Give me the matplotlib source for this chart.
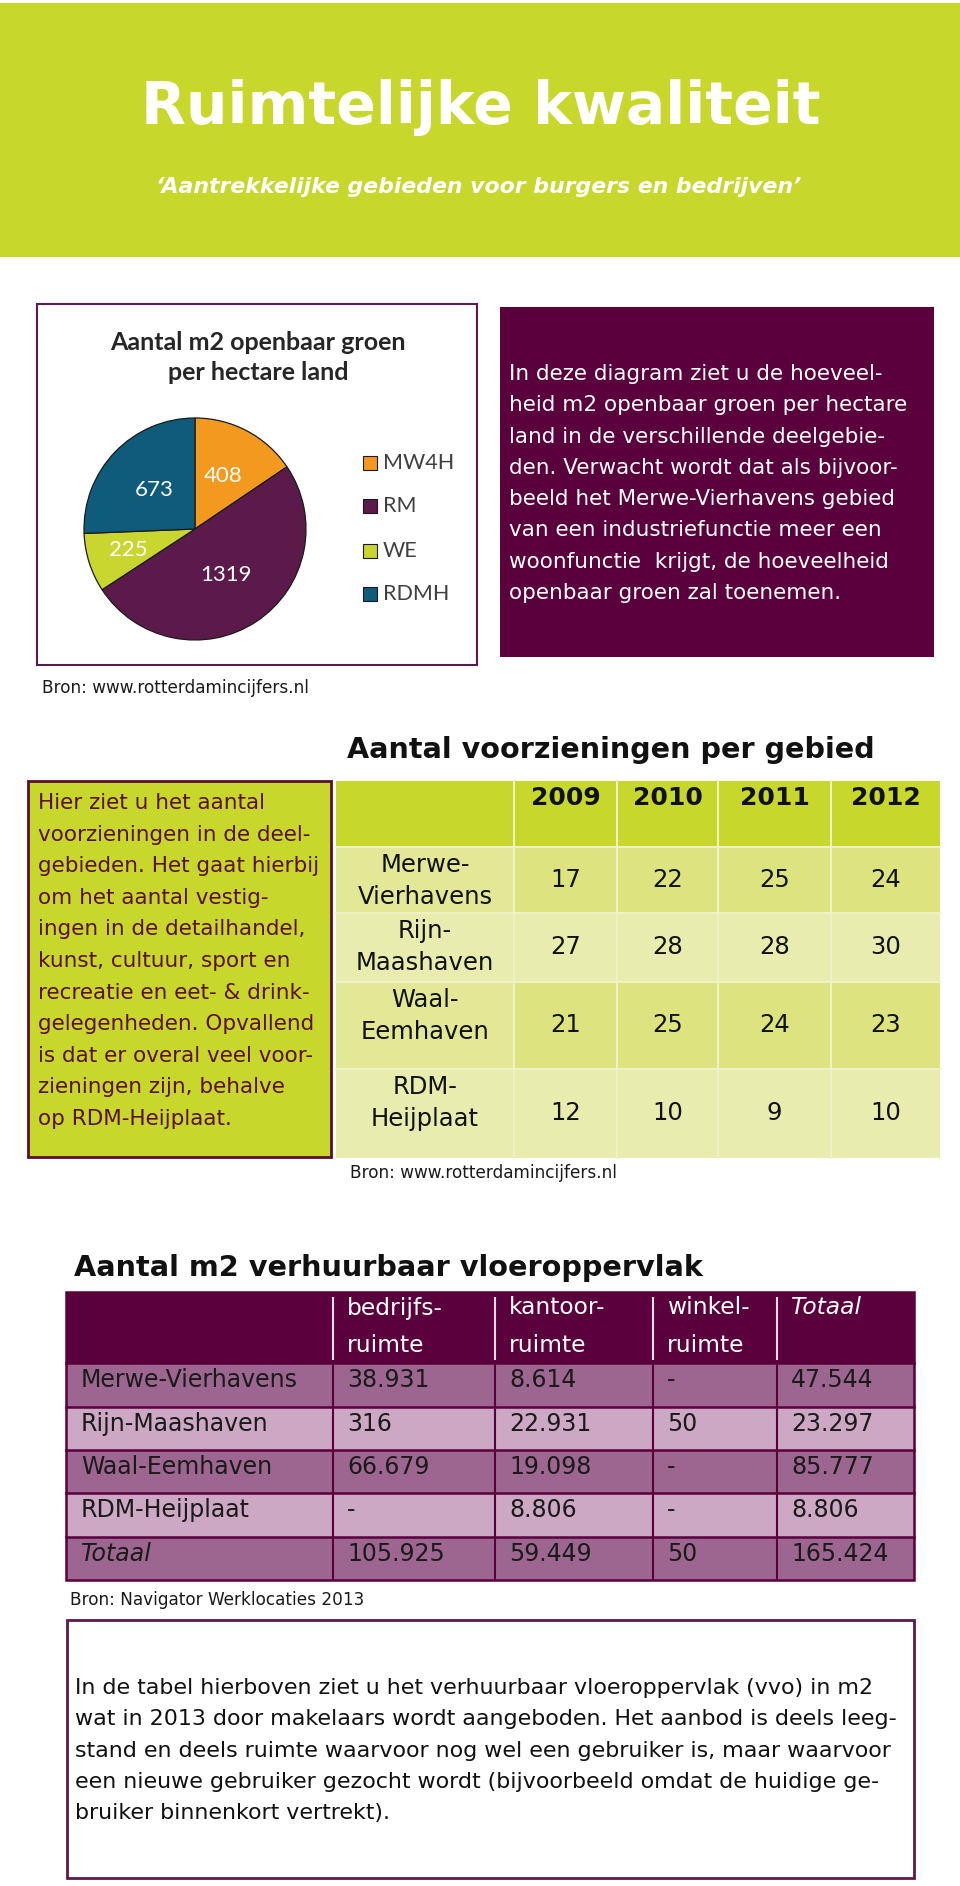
"""
Infographic 'Ruimtelijke kwaliteit': pie of public green per hectare plus two tables.
"""

import matplotlib.pyplot as plt
from matplotlib.patches import Rectangle
import numpy as np

# data
pie_labels = ["MW4H", "RM", "WE", "RDMH"]
pie_values = [408, 1319, 225, 673]

years = ["2009", "2010", "2011", "2012"]
areas = ["Merwe-\nVierhavens", "Rijn-\nMaashaven", "Waal-\nEemhaven", "RDM-\nHeijplaat"]
voorzieningen = [
    [17, 22, 25, 24],
    [27, 28, 28, 30],
    [21, 25, 24, 23],
    [12, 10, 9, 10],
]

vvo_columns = ["bedrijfs-\nruimte", "kantoor-\nruimte", "winkel-\nruimte", "Totaal"]
vvo_rows = ["Merwe-Vierhavens", "Rijn-Maashaven", "Waal-Eemhaven", "RDM-Heijplaat", "Totaal"]
vvo_values = [
    ["38.931", "8.614", "-", "47.544"],
    ["316", "22.931", "50", "23.297"],
    ["66.679", "19.098", "-", "85.777"],
    ["-", "8.806", "-", "8.806"],
    ["105.925", "59.449", "50", "165.424"],
]

text_pie = [
    "In deze diagram ziet u de hoeveel-",
    "heid m2 openbaar groen per hectare",
    "land in de verschillende deelgebie-",
    "den. Verwacht wordt dat als bijvoor-",
    "beeld het Merwe-Vierhavens gebied",
    "van een industriefunctie meer een",
    "woonfunctie  krijgt, de hoeveelheid",
    "openbaar groen zal toenemen.",
]
text_voorz = [
    "Hier ziet u het aantal",
    "voorzieningen in de deel-",
    "gebieden. Het gaat hierbij",
    "om het aantal vestig-",
    "ingen in de detailhandel,",
    "kunst, cultuur, sport en",
    "recreatie en eet- & drink-",
    "gelegenheden. Opvallend",
    "is dat er overal veel voor-",
    "zieningen zijn, behalve",
    "op RDM-Heijplaat.",
]
text_vvo = [
    "In de tabel hierboven ziet u het verhuurbaar vloeroppervlak (vvo) in m2",
    "wat in 2013 door makelaars wordt aangeboden. Het aanbod is deels leeg-",
    "stand en deels ruimte waarvoor nog wel een gebruiker is, maar waarvoor",
    "een nieuwe gebruiker gezocht wordt (bijvoorbeeld omdat de huidige ge-",
    "bruiker binnenkort vertrekt).",
]

# colours
LIME = "#C8D72B"
PLUM = "#5A003C"
PIE_COLORS = ["#F39A1E", "#5B1A49", "#C9D630", "#0F5B7C"]

W, H = 960, 1886
fig = plt.figure(figsize=(W / 100, H / 100), dpi=100)
ax = fig.add_axes((0, 0, 1, 1))
ax.set_xlim(0, W)
ax.set_ylim(H, 0)
ax.axis("off")


def box(x0, y0, x1, y1, fc, ec="none", lw=0.0):
    ax.add_patch(Rectangle((x0, y0), x1 - x0, y1 - y0, facecolor=fc, edgecolor=ec, linewidth=lw))


def lines(strings, x, y0, step, **kw):
    for i, s in enumerate(strings):
        ax.text(x, y0 + i * step, s, va="center", ha="left", **kw)


# header
box(0, 3, W, 257, LIME)
ax.text(481, 108, "Ruimtelijke kwaliteit", color="white", fontsize=42,
        fontweight="bold", ha="center", va="center")
ax.text(479, 187, "\u2018Aantrekkelijke gebieden voor burgers en bedrijven\u2019", color="white",
        fontsize=15.8, fontweight="bold", fontstyle="italic", ha="center", va="center")

# pie panel
box(37, 304, 477, 665, "white", ec="#5A1A4A", lw=1.5)
ax.text(258, 342, "Aantal m2 openbaar groen", family="Lato", fontweight="bold",
        fontsize=18, color="#262626", ha="center", va="center")
ax.text(258, 373, "per hectare land", family="Lato", fontweight="bold",
        fontsize=18, color="#262626", ha="center", va="center")

cx, cy, r = 195, 529, 111
pax = fig.add_axes(((cx - r) / W, 1 - (cy + r) / H, 2 * r / W, 2 * r / H))
wedges, _ = pax.pie(pie_values, colors=PIE_COLORS, startangle=90, counterclock=False,
                    wedgeprops={"edgecolor": "#1a1a1a", "linewidth": 0.9})
pax.set_xlim(-1, 1)
pax.set_ylim(-1, 1)
label_dist = [0.54, 0.50, 0.63, 0.51]
for w, v, d in zip(wedges, pie_values, label_dist):
    ang = np.deg2rad((w.theta1 + w.theta2) / 2)
    pax.text(d * np.cos(ang), d * np.sin(ang), str(v), color="white", family="Lato",
             fontsize=16, ha="center", va="center")

legend_y = [463, 506, 551, 594]
for lab, col, ly in zip(pie_labels, PIE_COLORS, legend_y):
    box(363, ly - 7, 377, ly + 7, col, ec="#1a1a1a", lw=0.8)
    ax.text(383, ly, lab, family="Lato", fontsize=15.5, color="#404040", va="center")

# purple text panel
box(500, 307, 934, 657, PLUM)
lines(text_pie, 509, 374, 31.3, color="white", fontsize=15.5)

ax.text(42, 688, "Bron: www.rotterdamincijfers.nl", fontsize=12.2, color="#1a1a1a", va="center")

# table: voorzieningen
ax.text(611, 750, "Aantal voorzieningen per gebied", fontsize=20.6, fontweight="bold",
        color="#111111", ha="center", va="center")

box(28, 781, 331, 1157, LIME, ec="#5A0F2A", lw=2)
lines(text_voorz, 38, 803, 31.6, color="#5A1020", fontsize=15.5)

t1_cols = [336, 514, 617, 718, 831, 940]
t1_rows = [781, 847, 913, 982, 1069, 1158]
row_fill = ["#DCE37F", "#E8EDAF"]
label_fill = ["#E2E895", "#E8EDAF"]
grid_col = "#EEF2C6"

box(t1_cols[0], t1_rows[0], t1_cols[-1], t1_rows[1], LIME)
for j, yr in enumerate(years):
    xm = (t1_cols[j + 1] + t1_cols[j + 2]) / 2
    ax.text(xm, 798, yr, fontsize=18, fontweight="bold", color="#111111",
            ha="center", va="center")
    ax.plot([t1_cols[j + 1]] * 2, [t1_rows[0], t1_rows[1]], color=grid_col, lw=1.5)

for i, (area, vals) in enumerate(zip(areas, voorzieningen)):
    top, bot = t1_rows[i + 1], t1_rows[i + 2]
    box(t1_cols[0], top, t1_cols[1], bot, label_fill[i % 2])
    box(t1_cols[1], top, t1_cols[-1], bot, row_fill[i % 2])
    ax.text((t1_cols[0] + t1_cols[1]) / 2, top + 34, area, fontsize=17.5, color="#111111",
            ha="center", va="center", linespacing=1.45)
    for j, v in enumerate(vals):
        xm = (t1_cols[j + 1] + t1_cols[j + 2]) / 2
        ax.text(xm, (top + bot) / 2, str(v), fontsize=17.5, color="#111111",
                ha="center", va="center")
for yy in t1_rows[1:-1]:
    ax.plot([t1_cols[0], t1_cols[-1]], [yy, yy], color=grid_col, lw=1.5)
for xx in t1_cols[1:-1]:
    ax.plot([xx, xx], [t1_rows[1], t1_rows[-1]], color=grid_col, lw=1.5)

ax.text(350, 1173, "Bron: www.rotterdamincijfers.nl", fontsize=12.2, color="#1a1a1a", va="center")

# table: verhuurbaar vloeroppervlak
ax.text(74, 1268, "Aantal m2 verhuurbaar vloeroppervlak", fontsize=20.7, fontweight="bold",
        color="#111111", ha="left", va="center")

t2_cols = [66, 333, 495, 653, 777, 914]
t2_rows = [1292, 1363, 1407, 1450, 1493, 1537, 1580]
vvo_fill = ["#9C6690", "#CDA8C5"]

box(t2_cols[0], t2_rows[0], t2_cols[-1], t2_rows[1], PLUM)
for j, col in enumerate(vvo_columns):
    x0 = t2_cols[j + 1]
    italic = "italic" if col == "Totaal" else "normal"
    for k, part in enumerate(col.split("\n")):
        ax.text(x0 + 14, 1308 + k * 37, part, fontsize=16.8, color="white",
                fontstyle=italic, va="center")
    ax.plot([x0, x0], [t2_rows[0] + 6, t2_rows[1] - 4], color="#EAD9E5", lw=1.5)

for i, (name, vals) in enumerate(zip(vvo_rows, vvo_values)):
    top, bot = t2_rows[i + 1], t2_rows[i + 2]
    box(t2_cols[0], top, t2_cols[-1], bot, vvo_fill[i % 2])
    italic = "italic" if name == "Totaal" else "normal"
    ax.text(t2_cols[0] + 15, top + 17, name, fontsize=17, color="#1a1a1a",
            fontstyle=italic, va="center")
    for j, v in enumerate(vals):
        ax.text(t2_cols[j + 1] + 14, top + 17, v, fontsize=17, color="#1a1a1a", va="center")
for yy in t2_rows[1:-1]:
    ax.plot([t2_cols[0], t2_cols[-1]], [yy, yy], color=PLUM, lw=1.8)
for xx in t2_cols[1:-1]:
    ax.plot([xx, xx], [t2_rows[1], t2_rows[-1]], color=PLUM, lw=1.5)
ax.add_patch(Rectangle((t2_cols[0], t2_rows[0]), t2_cols[-1] - t2_cols[0], t2_rows[-1] - t2_rows[0],
                       facecolor="none", edgecolor=PLUM, linewidth=1.8))

ax.text(70, 1600, "Bron: Navigator Werklocaties 2013", fontsize=12.2, color="#1a1a1a", va="center")

box(67, 1620, 914, 1878, "white", ec="#5A1A4A", lw=2)
lines(text_vvo, 75, 1688, 31.3, color="#111111", fontsize=15.9)

fig.savefig("out.png", dpi=100)
